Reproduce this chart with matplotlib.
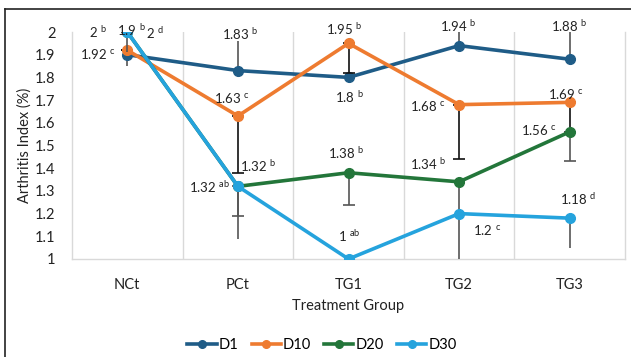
import matplotlib
matplotlib.use("Agg")
import matplotlib.pyplot as plt
from matplotlib.lines import Line2D
import numpy as np

plt.rcParams['font.family'] = ['Lato', 'DejaVu Sans']
plt.rcParams['mathtext.fontset'] = 'custom'
plt.rcParams['mathtext.rm'] = 'Lato'

groups = ["NCt", "PCt", "TG1", "TG2", "TG3"]
series_names = ["D1", "D10", "D20", "D30"]
d1 = [1.90, 1.83, 1.80, 1.94, 1.88]
d10 = [1.92, 1.63, 1.95, 1.68, 1.69]
d20 = [2.00, 1.32, 1.38, 1.34, 1.56]
d30 = [2.00, 1.32, 1.00, 1.20, 1.18]

# error bars (lower, upper)
d1_err_lo = [0.05, 0.0, 0.0, 0.0, 0.0]
d1_err_hi = [0.0, 0.13, 0.0, 0.08, 0.13]
d10_err_lo = [0.0, 0.25, 0.13, 0.24, 0.13]
d10_err_hi = [0.0, 0.0, 0.0, 0.0, 0.0]
d20_err_lo = [0.0, 0.13, 0.14, 0.36, 0.13]
d20_err_hi = [0.0, 0.0, 0.0, 0.0, 0.0]
d30_err_lo = [0.09, 0.23, 0.0, 0.0, 0.13]
d30_err_hi = [0.0, 0.0, 0.0, 0.0, 0.0]

d1_letters = ["b", "b", "b", "b", "b"]
d10_letters = ["c", "c", "b", "c", "c"]
d20_letters = ["d", "b", "b", "b", "c"]
d30_letters = ["b", "ab", "ab", "c", "d"]

colors = ["#1F5C87", "#EE7B30", "#23763A", "#25A3DD"]
err_colors = ["#555555", "#111111", "#555555", "#555555"]
err_caps = [0, 4, 4, 0]

# label offsets in pixels (dx, dy up)
d1_off = [(4, 25), (2, 37), (1, -20), (-1, 20), (0, 33)]
d10_off = [(-29, -4), (-6, 18), (-4, 14), (-31, -1), (-4, 8)]
d20_off = [(28, -1), (20, 20), (-2, 20), (-31, 18), (-31, 2)]
d30_off = [(-29, 0), (-28, -1), (1, 23), (28, -16), (8, 19)]

W, H = 631, 357
fig = plt.figure(figsize=(W / 100, H / 100), dpi=100)
ax = fig.add_axes([72 / W, 1 - 259 / H, (625 - 72) / W, (259 - 32) / H])

x = np.arange(len(groups))
all_vals = [d1, d10, d20, d30]
all_lo = [d1_err_lo, d10_err_lo, d20_err_lo, d30_err_lo]
all_hi = [d1_err_hi, d10_err_hi, d20_err_hi, d30_err_hi]
all_let = [d1_letters, d10_letters, d20_letters, d30_letters]
all_off = [d1_off, d10_off, d20_off, d30_off]

for i, (name, vals) in enumerate(zip(series_names, all_vals)):
    lo = np.array(all_lo[i]); hi = np.array(all_hi[i])
    ax.errorbar(x, vals, yerr=[lo, hi], fmt='none', ecolor=err_colors[i],
                elinewidth=1.2, capsize=err_caps[i], capthick=1.2, zorder=2 + i * 2)
    ax.plot(x, vals, color=colors[i], lw=2.6, marker='o', ms=7, label=name,
            zorder=3 + i * 2)

for i, vals in enumerate(all_vals):
    for j, v in enumerate(vals):
        txt = f"{v:g}" + r" $^{\mathregular{" + all_let[i][j] + "}}$"
        ax.annotate(txt, (x[j], v), xytext=all_off[i][j], textcoords='offset pixels',
                    ha='center', va='center', fontsize=9.5, color='#222222', zorder=20,
                    annotation_clip=False)

ax.set_xlim(-0.5, len(groups) - 0.5)
ax.set_ylim(1, 2)
ax.set_yticks(np.round(np.arange(1, 2.01, 0.1), 1))
ax.set_yticklabels([f"{t:g}" for t in np.round(np.arange(1, 2.01, 0.1), 1)])
ax.set_xticks(x)
ax.set_xticklabels(groups)
ax.set_xticks(np.arange(0.5, len(groups) - 1, 1), minor=True)
ax.grid(which='minor', axis='x', color='#D9D9D9', lw=1)
ax.tick_params(which='both', length=0)
ax.tick_params(axis='y', labelsize=10.5, pad=12, colors='#222222')
ax.tick_params(axis='x', labelsize=10.5, pad=14, colors='#222222')
for s in ['left', 'right', 'bottom']:
    ax.spines[s].set_color('#D9D9D9')
    ax.spines[s].set_linewidth(1)
ax.spines['top'].set_visible(False)

ax.set_xlabel("Treatment Group", fontsize=10.5, color='#222222', labelpad=5)
ax.set_ylabel("Arthritis Index (%)", fontsize=10.5, color='#222222', labelpad=2)

handles = [Line2D([0], [0], color=c, lw=2.6, marker='o', ms=5.5) for c in colors]
fig.legend(handles, series_names, loc='center', bbox_to_anchor=(322 / W, 1 - 345 / H),
           ncol=4, frameon=False, fontsize=10.5, handlelength=2.0, handletextpad=0.15,
           columnspacing=0.9)

fig.add_artist(Line2D([5 / W, 5 / W], [0, 1 - 9 / H], color='#222222', lw=1.2,
                      transform=fig.transFigure))
fig.add_artist(Line2D([5 / W, 1], [1 - 9 / H, 1 - 9 / H], color='#222222', lw=1.2,
                      transform=fig.transFigure))

fig.savefig("out.png", dpi=100)
